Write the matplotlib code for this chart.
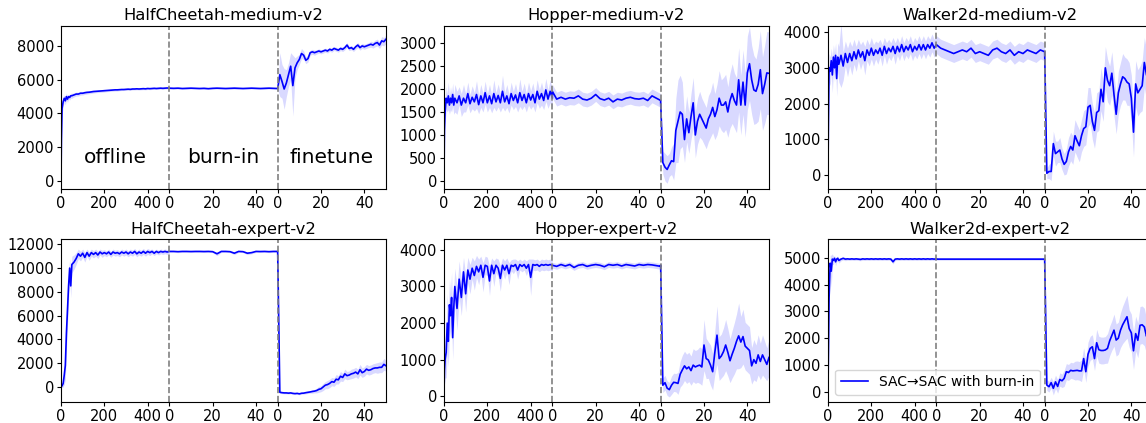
import numpy as np
import matplotlib.pyplot as plt

# x grids of the three phases
off_x = [0, 2, 5, 10, 15, 20, 25, 30, 35, 40, 45, 50] + list(range(60, 501, 10))
burn_x = list(range(0, 51, 2))
ft_x = list(range(0, 51))

titles = ["HalfCheetah-medium-v2", "Hopper-medium-v2", "Walker2d-medium-v2",
          "HalfCheetah-expert-v2", "Hopper-expert-v2", "Walker2d-expert-v2"]

# ---- HalfCheetah-medium ----
hcm_off = [0, 2500, 4300, 4700, 4900, 4750, 5000, 4850, 5000, 4950, 5050, 5050,
           5100, 5150, 5150, 5200, 5200, 5230, 5250, 5260, 5280, 5300, 5310, 5320,
           5330, 5340, 5350, 5360, 5370, 5380, 5390, 5400, 5400, 5410, 5420, 5420,
           5430, 5440, 5430, 5450, 5450, 5460, 5450, 5460, 5470, 5460, 5480, 5470,
           5480, 5490, 5480, 5490, 5500, 5490, 5500, 5510, 5500]
hcm_off_sd = [50, 800, 400, 250, 200, 250, 200, 200, 150, 150, 150, 150,
              120, 120, 110, 110, 100, 100, 100, 90, 90, 90, 80, 80,
              80, 80, 80, 70, 70, 70, 70, 70, 70, 60, 60, 60,
              60, 60, 60, 60, 60, 60, 60, 60, 60, 60, 60, 60,
              60, 60, 60, 60, 60, 60, 60, 60, 60]
hcm_burn = [5500, 5490, 5500, 5480, 5490, 5500, 5490, 5480, 5490, 5470, 5490, 5500, 5490,
            5480, 5490, 5500, 5490, 5480, 5490, 5500, 5490, 5480, 5490, 5500, 5490, 5480]
hcm_burn_sd = [60, 50, 50, 50, 60, 50, 50, 50, 60, 50, 50, 50, 50,
               50, 50, 60, 50, 50, 50, 50, 50, 50, 60, 50, 50, 50]
hcm_ft = [5480, 6300, 5900, 5450, 5800, 6300, 6800, 5650, 6700, 7000, 7200,
          7550, 7450, 7150, 7250, 7600, 7650, 7600, 7650, 7700, 7650,
          7700, 7750, 7700, 7800, 7750, 7850, 7800, 7750, 7850, 7800,
          7900, 8050, 7850, 7900, 7800, 7950, 8050, 7900, 8000, 7950,
          8000, 8050, 8100, 8050, 8150, 8200, 8050, 8300, 8250, 8400]
hcm_ft_sd = [80, 1300, 1000, 1200, 800, 700, 800, 1800, 600, 400, 300,
             300, 250, 200, 200, 150, 150, 150, 130, 130, 120,
             120, 120, 120, 120, 120, 120, 120, 120, 130, 130,
             130, 150, 130, 130, 130, 150, 150, 150, 150, 150,
             150, 150, 180, 180, 200, 200, 200, 250, 250, 250]

# ---- Hopper-medium ----
hpm_off = [50, 1100, 1500, 1800, 1700, 1850, 1650, 1800, 1700, 1880, 1650, 1800,
           1700, 1850, 1650, 1800, 1700, 1900, 1680, 1820, 1720, 1880, 1660, 1850,
           1700, 1920, 1700, 1850, 1680, 1900, 1720, 1860, 1700, 1950, 1720, 1850,
           1680, 1900, 1750, 1870, 1700, 1920, 1750, 1880, 1700, 1900, 1760, 1880,
           1700, 1950, 1780, 1900, 1750, 1980, 1780, 1950, 1800]
hpm_off_sd = [50, 300, 250, 250, 200, 300, 200, 250, 200, 250, 200, 300,
              250, 200, 250, 300, 200, 250, 200, 250, 200, 300, 200, 250,
              200, 250, 200, 250, 200, 300, 200, 250, 200, 350, 200, 250,
              200, 250, 200, 250, 200, 300, 200, 250, 200, 250, 200, 250,
              200, 250, 200, 250, 200, 250, 200, 250, 200]
hpm_burn = [1950, 1780, 1820, 1780, 1810, 1800, 1850, 1780, 1760, 1800, 1880, 1790,
            1760, 1800, 1720, 1780, 1760, 1800, 1820, 1790, 1780, 1800, 1750, 1850,
            1800, 1750]
hpm_burn_sd = [150, 150, 150, 150, 150, 150, 150, 150, 150, 150, 150, 150, 150,
               150, 150, 150, 150, 150, 150, 150, 150, 150, 150, 150, 150, 150]
hpm_ft = [1720, 400, 300, 250, 350, 440, 420, 1100, 1300, 1500, 1450,
          900, 1350, 1050, 1400, 1700, 1000, 1300, 1450, 1350, 1250,
          1150, 1350, 1450, 1600, 1400, 1550, 1800, 1650, 1650, 1720,
          1500, 1750, 1900, 1750, 1650, 2200, 1650, 2150, 1650, 2350,
          2550, 2200, 1980, 1950, 2100, 2420, 1900, 2100, 2350, 2340]
hpm_ft_sd = [100, 250, 300, 300, 250, 300, 400, 700, 900, 800, 700,
             500, 500, 450, 500, 550, 500, 500, 500, 450, 450,
             450, 500, 500, 550, 500, 550, 600, 550, 600, 600,
             550, 600, 650, 600, 600, 700, 650, 700, 700, 800,
             800, 750, 750, 700, 800, 850, 800, 850, 900, 900]

# ---- Walker2d-medium ----
wkm_off = [100, 1500, 3000, 2900, 3200, 2800, 3300, 3000, 3350, 2700, 3300, 3100,
           3350, 3050, 3400, 3150, 3400, 3200, 3450, 3250, 3500, 3300, 3450, 3200,
           3500, 3350, 3550, 3350, 3500, 3400, 3550, 3350, 3600, 3400, 3550, 3450,
           3600, 3400, 3600, 3450, 3650, 3450, 3600, 3500, 3650, 3450, 3600, 3500,
           3650, 3500, 3650, 3500, 3650, 3550, 3700, 3550, 3650]
wkm_off_sd = [50, 500, 400, 400, 350, 500, 350, 400, 350, 500, 400, 500,
              900, 400, 350, 400, 350, 400, 350, 350, 300, 350, 300, 400,
              300, 300, 300, 300, 250, 300, 250, 300, 250, 300, 250, 250,
              250, 300, 250, 250, 250, 250, 250, 250, 250, 250, 250, 250,
              250, 250, 250, 250, 250, 250, 250, 250, 250]
wkm_burn = [3650, 3550, 3500, 3450, 3400, 3450, 3500, 3450, 3550, 3400, 3450, 3400, 3350,
            3500, 3550, 3450, 3400, 3500, 3350, 3450, 3400, 3500, 3450, 3400, 3500, 3450]
wkm_burn_sd = [250, 250, 250, 250, 250, 250, 250, 250, 250, 250, 250, 250, 250,
               250, 250, 250, 250, 250, 250, 250, 250, 250, 250, 250, 250, 250]
wkm_ft = [3450, 50, 100, 100, 880, 600, 650, 700, 450, 300, 380,
          650, 800, 700, 1100, 950, 820, 1100, 1300, 1350, 1900,
          1950, 1500, 1250, 1750, 1800, 2400, 2050, 3000, 2650, 2500,
          2850, 2250, 1700, 2300, 2550, 2750, 2700, 2600, 2550, 2150,
          1200, 2550, 2300, 2400, 2500, 3150, 2800, 2700, 2900, 3000]
wkm_ft_sd = [150, 150, 200, 250, 350, 350, 300, 350, 300, 300, 350,
             400, 400, 400, 450, 450, 450, 450, 500, 500, 550,
             500, 500, 500, 550, 550, 600, 550, 600, 600, 550,
             600, 600, 550, 600, 600, 650, 600, 650, 600, 650,
             700, 650, 650, 650, 700, 700, 700, 700, 700, 700]

# ---- HalfCheetah-expert ----
hce_off = [0, 50, 100, 300, 1000, 1800, 4500, 6500, 8500, 10000, 8500, 10300,
           10500, 10800, 11200, 11000, 11250, 10900, 11300, 11000, 11300, 11150, 11300, 11100,
           11350, 11200, 11300, 11200, 11350, 11150, 11350, 11250, 11300, 11200, 11350, 11250,
           11350, 11200, 11350, 11250, 11400, 11200, 11350, 11250, 11400, 11250, 11400, 11300,
           11400, 11250, 11400, 11300, 11400, 11350, 11400, 11350, 11400]
hce_off_sd = [100, 100, 150, 300, 800, 1200, 1500, 1300, 1200, 800, 1000, 700,
              600, 500, 400, 400, 350, 400, 300, 350, 300, 300, 300, 300,
              250, 300, 250, 250, 250, 250, 250, 250, 250, 250, 250, 250,
              250, 250, 250, 250, 250, 250, 250, 250, 250, 250, 250, 250,
              200, 200, 200, 200, 200, 200, 200, 200, 200]
hce_burn = [11400, 11400, 11380, 11400, 11400, 11390, 11400, 11400, 11390, 11400, 11380, 11200, 11400,
            11400, 11380, 11250, 11400, 11380, 11250, 11300, 11400, 11390, 11400, 11380, 11400, 11400]
hce_burn_sd = [80, 80, 80, 80, 80, 80, 80, 80, 80, 80, 80, 150, 80,
               80, 80, 120, 80, 80, 120, 100, 80, 80, 80, 80, 80, 80]
hce_ft = [11400, -450, -480, -500, -500, -520, -500, -540, -560, -540, -580,
          -530, -520, -480, -450, -420, -380, -350, -300, -200, -150,
          0, 150, 200, 300, 450, 400, 650, 600, 900, 800,
          1100, 950, 1000, 1100, 1150, 1250, 1100, 1450, 1200, 1300,
          1500, 1400, 1450, 1550, 1600, 1600, 1650, 1650, 1900, 1780]
hce_ft_sd = [100, 100, 80, 80, 80, 80, 80, 80, 80, 80, 80,
             80, 80, 100, 100, 100, 150, 150, 200, 250, 250,
             300, 300, 350, 350, 350, 350, 400, 350, 400, 350,
             400, 350, 350, 400, 400, 400, 400, 450, 400, 400,
             400, 400, 400, 400, 400, 450, 450, 450, 500, 450]

# ---- Hopper-expert ----
hpe_off = [100, 700, 1000, 1200, 2000, 1500, 2500, 2200, 2700, 1600, 2400, 3000,
           2400, 3200, 2700, 3400, 2800, 3450, 3200, 3500, 3300, 3550, 3400, 3580,
           3250, 3580, 3550, 3150, 3580, 3350, 3580, 3500, 3220, 3580, 3450, 3580,
           3350, 3580, 3550, 3600, 3450, 3600, 3550, 3600, 3500, 3600, 3250, 3600,
           3580, 3600, 3550, 3600, 3580, 3600, 3580, 3600, 3580]
hpe_off_sd = [100, 400, 500, 700, 800, 700, 700, 600, 700, 600, 600, 500,
              600, 500, 500, 400, 500, 350, 400, 300, 400, 300, 350, 250,
              400, 250, 250, 400, 200, 350, 200, 250, 350, 200, 250, 200,
              300, 150, 200, 150, 250, 150, 150, 150, 200, 150, 500, 150,
              150, 150, 150, 150, 150, 150, 150, 150, 150]
hpe_burn = [3580, 3550, 3600, 3560, 3600, 3520, 3580, 3600, 3550, 3580, 3600, 3580, 3540,
            3600, 3580, 3600, 3560, 3600, 3580, 3560, 3600, 3580, 3600, 3590, 3570, 3550]
hpe_burn_sd = [80, 80, 80, 80, 80, 80, 80, 80, 80, 80, 80, 80, 80,
               80, 80, 80, 80, 80, 80, 80, 80, 80, 80, 80, 80, 80]
hpe_ft = [3580, 300, 370, 220, 180, 300, 380, 370, 350, 600, 720,
          830, 750, 800, 700, 850, 800, 830, 850, 800, 1400,
          1030, 990, 850, 670, 1200, 1670, 1030, 1100, 1220, 1400,
          1200, 970, 1150, 1310, 1500, 1650, 1480, 1630, 1370, 1310,
          1250, 830, 1000, 900, 1130, 950, 1130, 1000, 870, 1060]
hpe_ft_sd = [80, 200, 200, 200, 200, 250, 250, 250, 300, 350, 400,
             400, 400, 400, 400, 450, 450, 450, 500, 500, 700,
             550, 500, 550, 500, 600, 800, 600, 600, 650, 700,
             650, 600, 650, 700, 750, 900, 700, 750, 650, 650,
             650, 500, 550, 500, 550, 500, 550, 500, 450, 500]

# ---- Walker2d-expert ----
wke_off = [100, 1500, 3500, 4800, 4500, 4950, 4900, 4980, 4850, 4950, 4980, 4900,
           4950, 4980, 4950, 4960, 4950, 4960, 4950, 4960, 4950, 4940, 4960, 4950,
           4960, 4950, 4960, 4950, 4960, 4950, 4960, 4950, 4960, 4950, 4960, 4950,
           4850, 4950, 4960, 4950, 4960, 4950, 4960, 4950, 4960, 4950, 4960, 4950,
           4960, 4950, 4960, 4950, 4960, 4950, 4960, 4950, 4960]
wke_off_sd = [50, 400, 500, 300, 600, 200, 150, 100, 150, 100, 80, 100,
              60, 60, 60, 50, 50, 50, 50, 50, 50, 50, 50, 50,
              50, 50, 50, 50, 50, 50, 50, 50, 50, 50, 50, 50,
              80, 50, 50, 50, 50, 50, 50, 50, 50, 50, 50, 50,
              50, 50, 50, 50, 50, 50, 50, 50, 50]
wke_burn = [4950, 4950, 4950, 4950, 4950, 4950, 4950, 4950, 4950, 4950, 4950, 4950, 4950,
            4950, 4950, 4950, 4950, 4950, 4950, 4950, 4950, 4950, 4950, 4950, 4950, 4950]
wke_burn_sd = [40, 40, 40, 40, 40, 40, 40, 40, 40, 40, 40, 40, 40,
               40, 40, 40, 40, 40, 40, 40, 40, 40, 40, 40, 40, 40]
wke_ft = [4950, 250, 190, 340, 130, 370, 200, 460, 410, 500, 750,
          720, 800, 780, 790, 800, 780, 780, 1240, 750, 1400,
          1620, 1680, 1240, 1830, 1570, 1540, 1540, 1560, 1620, 1900,
          2100, 2300, 1930, 2000, 2300, 2500, 2650, 2800, 2360, 2200,
          1530, 2170, 1920, 2480, 2500, 2420, 2070, 2300, 2400, 2350]
wke_ft_sd = [60, 200, 200, 200, 250, 250, 250, 250, 250, 300, 300,
             300, 300, 300, 350, 350, 350, 400, 400, 400, 450,
             450, 450, 450, 500, 500, 500, 500, 500, 550, 550,
             550, 600, 600, 600, 650, 700, 750, 800, 700, 700,
             700, 650, 650, 700, 700, 700, 650, 650, 700, 700]

panels = [
    (hcm_off, hcm_off_sd, hcm_burn, hcm_burn_sd, hcm_ft, hcm_ft_sd),
    (hpm_off, hpm_off_sd, hpm_burn, hpm_burn_sd, hpm_ft, hpm_ft_sd),
    (wkm_off, wkm_off_sd, wkm_burn, wkm_burn_sd, wkm_ft, wkm_ft_sd),
    (hce_off, hce_off_sd, hce_burn, hce_burn_sd, hce_ft, hce_ft_sd),
    (hpe_off, hpe_off_sd, hpe_burn, hpe_burn_sd, hpe_ft, hpe_ft_sd),
    (wke_off, wke_off_sd, wke_burn, wke_burn_sd, wke_ft, wke_ft_sd),
]
ylims = [(-470, 9180), (-175, 3370), (-390, 4170),
         (-1240, 12420), (-150, 4290), (-370, 5690)]
yticks = [range(0, 8001, 2000), range(0, 3001, 500), range(0, 4001, 1000),
          range(0, 12001, 2000), range(0, 4001, 1000), range(0, 5001, 1000)]

W, H = 1146, 423
fig = plt.figure(figsize=(W / 100, H / 100), dpi=100)

col_left = [61, 444, 828]
row_box = [(26, 189), (239.3, 401.7)]
ax_w = 325

# each phase gets the same width: offline 0..500 -> 0..50, burn-in -> 50..100, finetune -> 100..150
pos = np.concatenate([np.array(off_x) / 10.0, 50 + np.array(burn_x), 100 + np.array(ft_x)])

for i, (title, data, ylim) in enumerate(zip(titles, panels, ylims)):
    r, c = divmod(i, 3)
    top, bot = row_box[r]
    ax = fig.add_axes([col_left[c] / W, 1 - bot / H, ax_w / W, (bot - top) / H])

    mean = np.concatenate([data[0], data[2], data[4]])
    sd = np.concatenate([data[1], data[3], data[5]])

    ax.fill_between(pos, mean - sd, mean + sd, color="blue", alpha=0.15, lw=0)
    ax.plot(pos, mean, color="blue", lw=1.2, label="SAC\u2192SAC with burn-in")
    for xv in (50, 100):
        ax.axvline(xv, color="gray", ls="--", lw=1.2)

    ax.set_xlim(0, 150)
    ax.set_ylim(*ylim)
    ax.set_yticks(list(yticks[i]))
    ax.set_xticks([0, 20, 40, 50, 70, 90, 100, 120, 140])
    ax.set_xticklabels(["0", "200", "400", "0", "20", "40", "0", "20", "40"])
    ax.tick_params(labelsize=10.5, length=3, pad=2)
    ax.set_title(title, fontsize=11.8, pad=4)

    if i == 0:
        for xc, lab in zip((25, 75, 125), ("offline", "burn-in", "finetune")):
            ax.text(xc, 1050, lab, fontsize=14.5, ha="center", va="baseline")
    if i == 5:
        ax.legend(loc="lower left", fontsize=10)

fig.savefig("out.png", dpi=100)
